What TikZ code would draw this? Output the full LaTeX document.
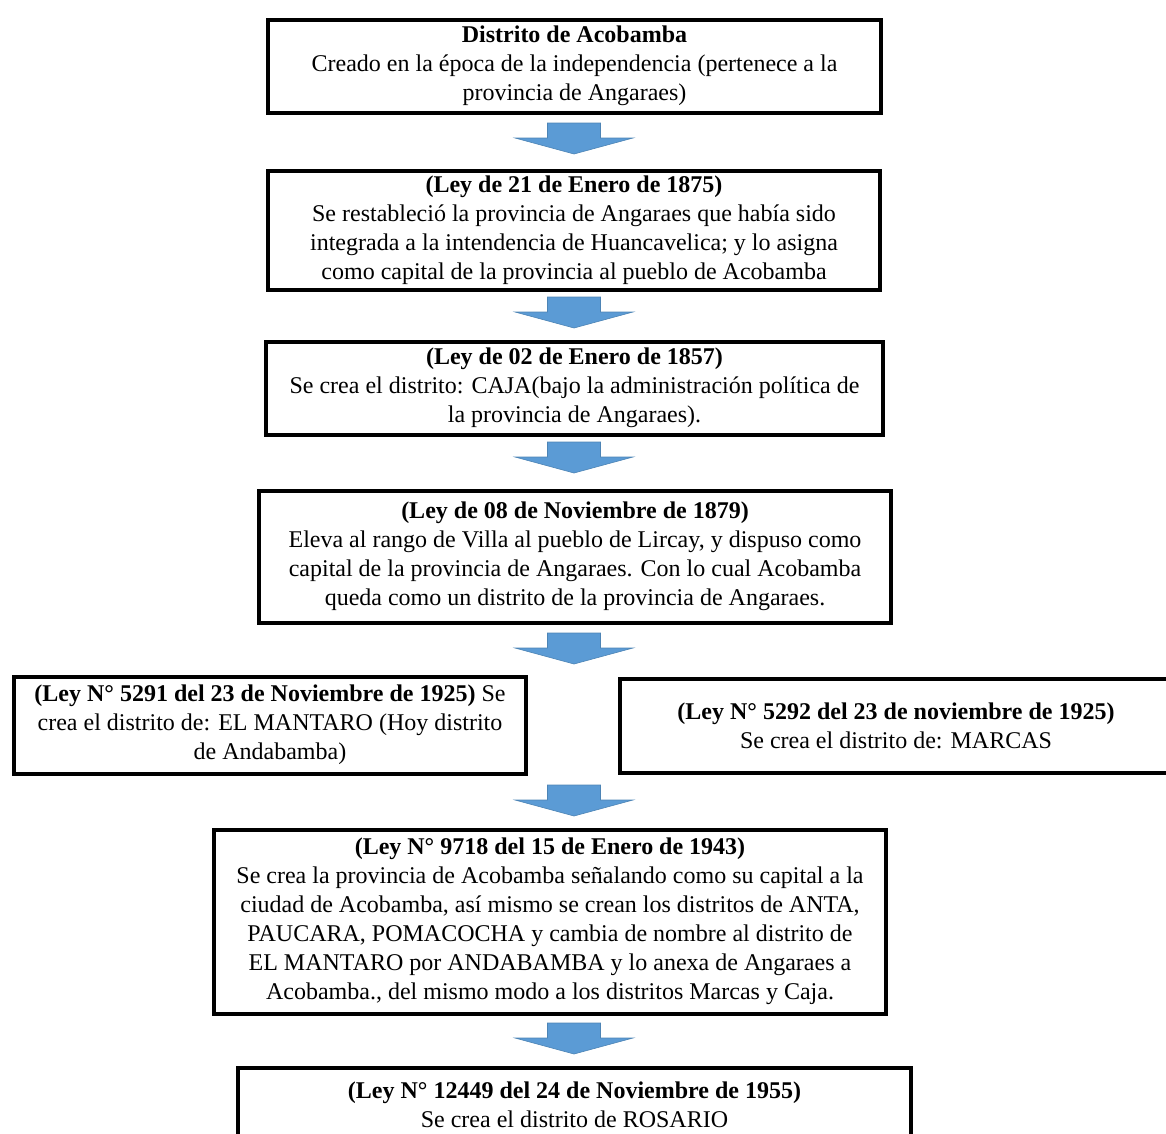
\documentclass[tikz,border=0pt]{standalone}
\usepackage{fontspec}
\setmainfont{Liberation Serif}
\definecolor{arrowblue}{RGB}{91,155,213}

\begin{document}
\begin{tikzpicture}[x=1pt, y=-1pt,
  box/.style={rectangle, draw, line width=4pt, fill=white, align=center, inner sep=0pt, font=\fontsize{24}{29}\selectfont},
  blockarrow/.pic={\filldraw[fill=arrowblue, draw=arrowblue!85!black, line width=0.6pt] (-26.5,0) -- (26.5,0) -- (26.5,15) -- (59,15) -- (0,31) -- (-59,15) -- (-26.5,15) -- cycle;}
]
\useasboundingbox (0,0) rectangle (1166,1133);

\node[box, minimum width=613, minimum height=93] (acobamba) at (574.5,66) {\textbf{Distrito de Acobamba}\\Creado en la época de la independencia (pertenece a la\\provincia de Angaraes)};
\node[box, minimum width=612, minimum height=119] (ley1875) at (574,230) {\textbf{(Ley de 21 de Enero de 1875)}\\Se restableció la provincia de Angaraes que había sido\\integrada a la intendencia de Huancavelica; y lo asigna\\como capital de la provincia al pueblo de Acobamba};
\node[box, minimum width=617, minimum height=93] (ley1857) at (574.5,388) {\textbf{(Ley de 02 de Enero de 1857)}\\Se crea el distrito: CAJA(bajo la administración política de\\la provincia de Angaraes).};
\node[box, minimum width=632, minimum height=132] (ley1879) at (575,556.5) {\textbf{(Ley de 08 de Noviembre de 1879)}\\Eleva al rango de Villa al pueblo de Lircay, y dispuso como\\capital de la provincia de Angaraes. Con lo cual Acobamba\\queda como un distrito de la provincia de Angaraes.};

\node[box, minimum width=512, minimum height=97] (ley5291) at (270,725) {\textbf{(Ley N° 5291 del 23 de Noviembre de 1925)} Se\\crea el distrito de: EL MANTARO (Hoy distrito\\de Andabamba)};
\node[box, minimum width=553, minimum height=94] (ley5292) at (896,725.5) {\textbf{(Ley N° 5292 del 23 de noviembre de 1925)}\\Se crea el distrito de: MARCAS};

\node[box, minimum width=672, minimum height=184] (ley9718) at (550,921.5) {\textbf{(Ley N° 9718 del 15 de Enero de 1943)}\\Se crea la provincia de Acobamba señalando como su capital a la\\ciudad de Acobamba, así mismo se crean los distritos de ANTA,\\PAUCARA, POMACOCHA y cambia de nombre al distrito de\\EL MANTARO por ANDABAMBA y lo anexa de Angaraes a\\Acobamba., del mismo modo a los distritos Marcas y Caja.};
\node[box, minimum width=673, minimum height=74] (ley12449) at (574.5,1105) {\textbf{(Ley N° 12449 del 24 de Noviembre de 1955)}\\Se crea el distrito de ROSARIO};

% flechas
\pic at (574,123) {blockarrow};
\pic at (574,297) {blockarrow};
\pic at (574,442) {blockarrow};
\pic at (574,633) {blockarrow};
\pic at (574,785) {blockarrow};
\pic at (574,1023) {blockarrow};

\end{tikzpicture}
\end{document}
